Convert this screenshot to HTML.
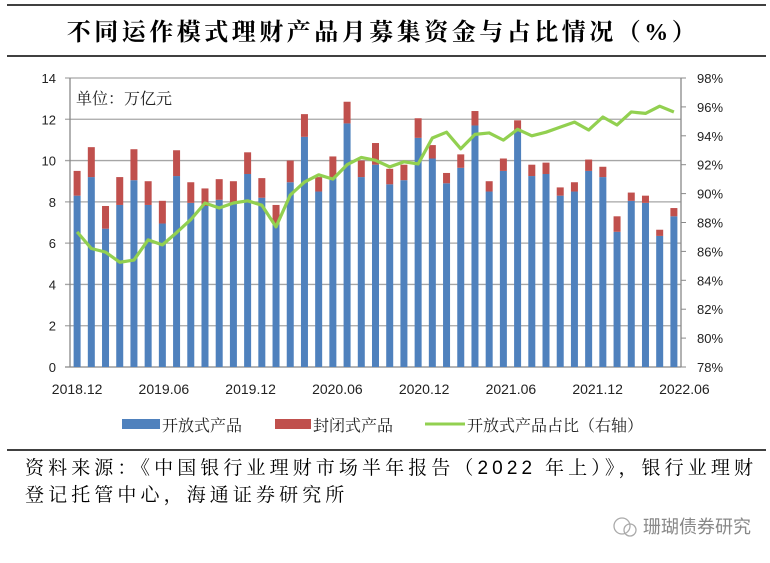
<!DOCTYPE html>
<html><head><meta charset="utf-8"><style>
body{margin:0;background:#fff;width:770px;height:558px;overflow:hidden;font-family:"Liberation Sans","Noto Sans CJK SC",sans-serif;}
</style></head><body>
<svg width="770" height="558" id="svg">
<line x1="7" y1="5" x2="766" y2="5" stroke="#000" stroke-width="1.5"/>
<text x="383" y="40" text-anchor="middle" font-family="Liberation Serif,Noto Serif CJK SC,serif" font-weight="bold" font-size="24" letter-spacing="3.5">不同运作模式理财产品月募集资金与占比情况（%）</text>
<line x1="7" y1="56" x2="766" y2="56" stroke="#000" stroke-width="1.5"/>
<g id="plot"></g>
<text x="76" y="104" font-family="Liberation Serif,Noto Serif CJK SC,serif" font-size="16" fill="#222">单位：万亿元</text>
<g font-family="Liberation Serif,Noto Serif CJK SC,serif" font-size="16" fill="#222">
<g><rect x="122" y="419" width="38" height="10" fill="#4f81bd"/><text x="162" y="431">开放式产品</text></g>
<g><rect x="275" y="419" width="36" height="10" fill="#c0504d"/><text x="313" y="431">封闭式产品</text></g>
<g><line x1="425" y1="424" x2="465" y2="424" stroke="#92d050" stroke-width="3"/><text x="467" y="431">开放式产品占比（右轴）</text></g>
</g>
<line x1="7" y1="450" x2="766" y2="450" stroke="#000" stroke-width="1.5"/>
<text x="25" y="474" font-family="Liberation Serif,Noto Serif CJK SC,serif" font-size="19" letter-spacing="4.1">资料来源：《中国银行业理财市场半年报告（<tspan font-family="Liberation Sans,sans-serif">2022</tspan> 年上）》，银行业理财</text>
<text x="25" y="501" font-family="Liberation Serif,Noto Serif CJK SC,serif" font-size="19" letter-spacing="4.1">登记托管中心，海通证券研究所</text>
<g fill="#999">
<circle cx="622" cy="526" r="8" fill="none" stroke="#aaa" stroke-width="1.3"/><circle cx="630" cy="530" r="6" fill="none" stroke="#aaa" stroke-width="1.3"/>
<text x="643" y="533" font-family="Liberation Sans,Noto Sans CJK SC,sans-serif" font-size="18" fill="#888">珊瑚债券研究</text>
</g>
</svg>
<script>
const openVals=[8.3,9.2,6.7,7.85,9.05,7.85,6.95,9.25,7.95,7.8,8.1,7.9,9.35,8.2,6.9,8.95,11.15,8.5,9.15,11.8,9.2,9.8,8.85,9.05,11.1,10.1,8.9,9.65,11.7,8.5,9.5,11.45,9.25,9.35,8.3,8.5,9.5,9.2,6.55,8.05,7.95,6.35,7.3];
const totalVals=[9.5,10.65,7.8,9.2,10.55,9.0,8.05,10.5,8.95,8.65,9.1,9.0,10.4,9.15,7.85,10.0,12.25,9.2,10.2,12.85,10.0,10.85,9.6,9.8,12.05,10.75,9.4,10.3,12.4,9.0,10.1,11.95,9.8,9.9,8.7,8.95,10.05,9.7,7.3,8.45,8.3,6.65,7.7];
const ratioVals=[87.35,86.2,85.95,85.25,85.4,86.8,86.45,87.3,88.2,89.35,89.0,89.35,89.5,89.2,87.7,89.9,90.8,91.3,91.0,92.0,92.5,92.3,91.85,92.2,92.05,93.85,94.25,93.1,94.1,94.2,93.7,94.45,94.0,94.25,94.6,94.95,94.4,95.3,94.75,95.65,95.55,96.05,95.65];
const xLabels=["2018.12","2019.06","2019.12","2020.06","2020.12","2021.06","2021.12","2022.06"];
const leftTicks=[0,2,4,6,8,10,12,14];
const rightTicks=[78,80,82,84,86,88,90,92,94,96,98];
const NS="http://www.w3.org/2000/svg";
const g=document.getElementById('plot');
const X0=70,X1=681,Y0=367,Y1=78,n=openVals.length,band=(X1-X0)/n;
const xc=i=>X0+band*(i+0.5);
const yL=v=>Y0-(v-0)/(14-0)*(Y0-Y1);
const yR=v=>Y0-(v-78)/(98-78)*(Y0-Y1);
function mk(t,a){const e=document.createElementNS(NS,t);for(const k in a)e.setAttribute(k,a[k]);g.appendChild(e);return e;}
leftTicks.forEach(v=>{
 const l=mk('line',{x1:65,x2:X1,y1:yL(v),y2:yL(v),stroke:v===0?'#888':'#a6a6a6','stroke-width':1.3});
 
 
 const t=mk('text',{x:56,y:yL(v)+5,'text-anchor':'end','font-size':13,fill:'#222'});t.textContent=v;
 
 
});
rightTicks.forEach(v=>{
 const l=mk('line',{x1:X1,x2:X1+5,y1:yR(v),y2:yR(v),stroke:'#888'});
 
 
 const t=mk('text',{x:697,y:yR(v)+5,'font-size':13,fill:'#222'});t.textContent=v+'%';
 
 
});
let a=mk('line',{x1:X0,x2:X0,y1:Y1,y2:Y0,stroke:'#888','stroke-width':1.3});


a=mk('line',{x1:X1,x2:X1,y1:Y1,y2:Y0,stroke:'#888','stroke-width':1.3});


const bw=7;
for(let i=0;i<n;i++){
 const b=mk('rect',{x:xc(i)-bw/2,y:yL(openVals[i]),width:bw,height:yL(0)-yL(openVals[i]),fill:'#4f81bd'});
 
 
 const r=mk('rect',{x:xc(i)-bw/2,y:yL(totalVals[i]),width:bw,height:yL(openVals[i])-yL(totalVals[i]),fill:'#c0504d'});
 
 
}
const p=mk('polyline',{points:ratioVals.map((v,i)=>xc(i)+','+yR(v)).join(' '),fill:'none',stroke:'#92d050','stroke-width':3.2,'stroke-linejoin':'round'});


xLabels.forEach((s,k)=>{
 const t=mk('text',{x:xc(k*6)+k*1.5,y:394,'text-anchor':'middle','font-size':14,fill:'#222'});t.textContent=s;
 
 
});
</script>
</body></html>
